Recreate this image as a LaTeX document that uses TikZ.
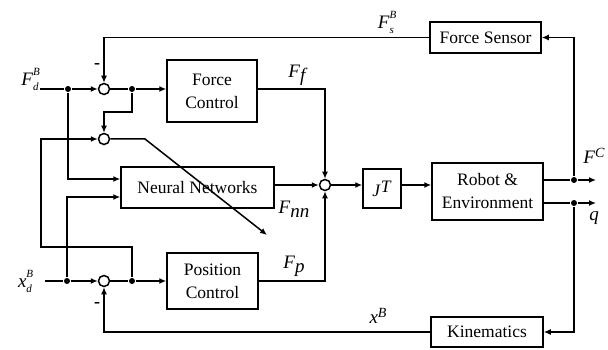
\documentclass[tikz,border=0pt]{standalone}
\usepackage{fontspec}
\setmainfont{Liberation Serif}
\usetikzlibrary{arrows.meta}
\newcommand{\suplbl}[3]{\textit{#1}\rlap{\raisebox{10pt}{\fontsize{11}{11}\selectfont\textit{#2}}}\raisebox{-5pt}{\fontsize{11}{11}\selectfont\textit{#3}}}
\begin{document}
\begin{tikzpicture}[x=1pt,y=-1pt,line width=1.5pt,
  blk/.style={draw,rectangle,inner sep=0pt,align=center,font=\fontsize{17.5}{23}\selectfont},
  sumc/.style={draw,circle,minimum size=11pt,inner sep=0pt},
  dotc/.style={fill,circle,minimum size=6pt,inner sep=0pt,draw=none},
  arr/.style={-{Latex[length=7pt,width=6pt]}},
  lab/.style={font=\fontsize{19}{19}\selectfont,inner sep=0pt},
  sgn/.style={font=\fontsize{18}{18}\selectfont\bfseries,inner sep=0pt}]
\useasboundingbox (0,0) rectangle (608,350);

% blocks
\node[blk,minimum width=90pt,minimum height=62pt] (fc) at (212,91) {Force\\Control};
\node[blk,minimum width=91pt,minimum height=56pt] (pc) at (212.5,281) {Position\\Control};
\node[blk,minimum width=153pt,minimum height=41pt] (nn) at (197.5,187.5) {Neural Networks};
\node[blk,minimum width=38pt,minimum height=39pt] (jt) at (382,188.5) {\textit{J}\raisebox{4pt}{\textit{T}}};
\node[blk,minimum width=111pt,minimum height=57pt] (rb) at (487.5,191.5) {Robot \&\\Environment};
\node[blk,minimum width=111pt,minimum height=31pt] (fs) at (485.5,37.5) {Force Sensor};
\node[blk,minimum width=112pt,minimum height=30pt] (kin) at (487,332) {Kinematics};

% summing junctions
\node[sumc] (s1) at (104,89) {};
\node[sumc] (s2) at (104,139) {};
\node[sumc] (s3) at (104,281) {};
\node[sumc] (s4) at (325,185) {};

% branch dots
\node[dotc] (j1) at (68,89) {};
\node[dotc] (j2) at (132,89) {};
\node[dotc] (j3) at (67,281) {};
\node[dotc] (j4) at (132,281) {};
\node[dotc] (j5) at (574,180) {};
\node[dotc] (j6) at (574,203) {};

% free ends and bends
\coordinate (inF) at (40,89);
\coordinate (inX) at (45,281);
\coordinate (b1) at (132,112);
\coordinate (b2) at (104,112);
\coordinate (b3) at (132,247);
\coordinate (b4) at (41,247);
\coordinate (b5) at (41,139);
\coordinate (d1) at (145,139);
\coordinate (d2) at (267,235);
\coordinate (outF) at (596,180);
\coordinate (outQ) at (596,203);

% force input path
\draw (inF) -- (j1);
\draw[arr] (j1) -- (s1.west);
\draw[arr] (j1) |- (nn.west |- 0,179);
\draw (s1.east) -- (j2);
\draw[arr] (j2) -- (fc.west |- j2);
\draw[arr] (j2) -- (b1) -- (b2) -- (s2.north);
\draw[arr] (fs.west) -| (s1.north);

% position input path
\draw (inX) -- (j3);
\draw[arr] (j3) -- (s3.west);
\draw[arr] (j3) |- (nn.west |- 0,197);
\draw (s3.east) -- (j4);
\draw[arr] (j4) -- (pc.west |- j4);
\draw[arr] (j4) -- (b3) -- (b4) -- (b5) -- (s2.west);
\draw[arr] (kin.west) -| (s3.south);

% learning arrow
\draw[arr] (s2.east) -- (d1) -- (d2);

% outputs to sum
\draw[arr] (fc.east |- j2) -| (s4.north);
\draw[arr] (nn.east |- s4) -- (s4.west);
\draw[arr] (pc.east |- j4) -| (s4.south);
\draw[arr] (s4.east) -- (jt.west |- s4);
\draw[arr] (jt.east |- s4) -- (rb.west |- s4);

% robot outputs
\draw (rb.east |- j5) -- (j5);
\draw[arr] (j5) -- (outF);
\draw (rb.east |- j6) -- (j6);
\draw[arr] (j6) -- (outQ);
\draw[arr] (j5) |- (fs.east);
\draw[arr] (j6) |- (kin.east);

% labels
\node[lab] at (30,79) {\suplbl{F}{B}{d}};
\node[lab] at (25,281) {\suplbl{x}{B}{d}};
\node[lab] at (386,22) {\suplbl{F}{B}{s}};
\node[lab] at (298,75) {\textit{F}\raisebox{-4pt}{\textit{f}}};
\node[lab] at (294,209) {\textit{F}\raisebox{-4pt}{\textit{nn}}};
\node[lab] at (294,266) {\textit{F}\raisebox{-4pt}{\textit{p}}};
\node[lab] at (594,156) {\textit{F}\raisebox{6pt}{\fontsize{14}{14}\selectfont\textit{C}}};
\node[lab] at (594,218) {\textit{q}};
\node[lab] at (378,316) {\textit{x}\raisebox{6pt}{\fontsize{14}{14}\selectfont\textit{B}}};
\node[sgn] at (97,66) {-};
\node[sgn] at (97,305) {-};
\end{tikzpicture}
\end{document}
